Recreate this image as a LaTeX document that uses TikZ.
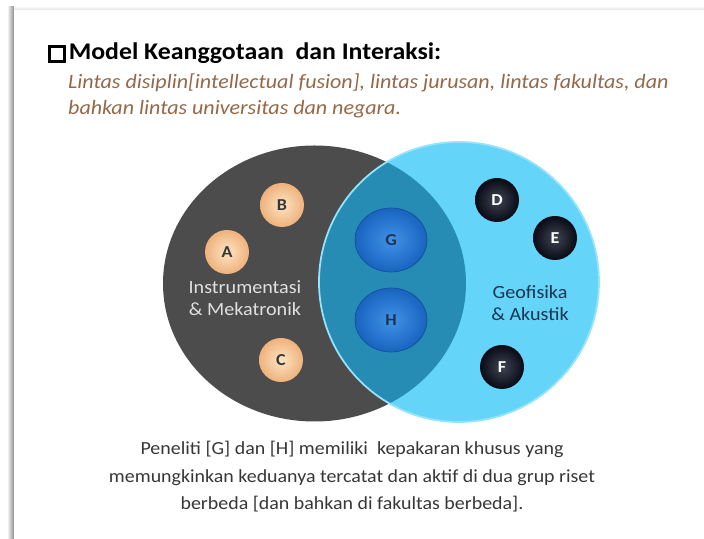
\documentclass[tikz,border=0pt]{standalone}
\usepackage{fontspec}
\setmainfont{Carlito}[FakeStretch=1.08]
\usetikzlibrary{shapes.geometric}

\definecolor{darkset}{RGB}{76,76,76}
\definecolor{blueset}{RGB}{100,212,248}
\definecolor{bluerim}{RGB}{150,228,252}
\definecolor{bothset}{RGB}{38,140,180}
\definecolor{subtext}{RGB}{150,104,72}
\definecolor{bodytext}{RGB}{55,55,55}
\definecolor{geotext}{RGB}{28,52,82}
\definecolor{peachin}{RGB}{254,228,196}
\definecolor{peachout}{RGB}{238,178,124}
\definecolor{gemin}{RGB}{64,146,230}
\definecolor{gemout}{RGB}{24,100,192}
\definecolor{navyin}{RGB}{64,68,84}
\definecolor{navyout}{RGB}{8,10,20}

\newcommand{\titlebox}{{\setlength\fboxrule{1.5pt}\setlength\fboxsep{0pt}%
  \fbox{\rule{0pt}{0.52em}\hspace{0.52em}}}\hspace{0.12em}}

\tikzset{
  peach/.style={shape=circle,minimum size=0.88cm,inner sep=0pt,
    inner color=peachin,outer color=peachout,text=bodytext,
    font=\fontsize{9.5}{11}\selectfont\bfseries},
  navy/.style={shape=circle,minimum size=0.88cm,inner sep=0pt,
    inner color=navyin,outer color=navyout,text=white,
    font=\fontsize{9.5}{11}\selectfont\bfseries},
  shared/.style={shape=ellipse,minimum width=1.44cm,minimum height=1.28cm,
    inner sep=0pt,inner color=gemin,outer color=gemout,draw=gemout!80!black,
    text=geotext,font=\fontsize{9.5}{11}\selectfont\bfseries},
  setlabel/.style={align=center,font=\fontsize{10.6}{12.8}\selectfont}
}

\begin{document}
\begin{tikzpicture}
  \useasboundingbox (0,0) rectangle (14.08,-10.78);
  % card and its shadow
  \shade[left color=white,right color=black!45] (0.14,-0.14) rectangle (0.28,-10.78);
  \shade[top color=white,bottom color=black!12] (0.28,-0.12) rectangle (14.08,-0.2);
  \fill[white] (0.28,-0.2) rectangle (14.08,-10.78);

  \node[anchor=base west,font=\fontsize{13.6}{16}\selectfont\bfseries] (title) at (0.84,-1.2)
    {\titlebox Model Keanggotaan\ \ dan Interaksi:};
  \node[anchor=base west,align=left,text=subtext,font=\fontsize{11.6}{15.3}\selectfont\itshape] (sub) at (1.24,-2.3)
    {Lintas disiplin[intellectual fusion], lintas jurusan, lintas fakultas, dan\\
     bahkan lintas universitas dan negara.};

  % the two groups
  \fill[darkset] (6.29,-5.67) ellipse [x radius=3.03,y radius=2.76];
  \fill[blueset] (9.18,-5.64) circle (2.8);
  \begin{scope}
    \clip (6.29,-5.67) ellipse [x radius=3.03,y radius=2.76];
    \fill[bothset] (9.18,-5.64) circle (2.8);
  \end{scope}
  \draw[bluerim,line width=1pt] (9.18,-5.64) circle (2.8);

  \node[setlabel,text=black!12] (instr) at (4.9,-5.96) {Instrumentasi\\\& Mekatronik};
  \node[setlabel,text=geotext] (geo) at (10.6,-6.06) {Geofisika\\\& Akustik};

  \node[peach] (a) at (4.54,-5.04) {A};
  \node[peach] (b) at (5.64,-4.10) {B};
  \node[peach] (c) at (5.62,-7.20) {C};
  \node[navy] (d) at (9.94,-4.00) {D};
  \node[navy] (e) at (11.10,-4.76) {E};
  \node[navy] (f) at (10.04,-7.34) {F};
  \node[shared] (g) at (7.82,-4.80) {G};
  \node[shared] (h) at (7.82,-6.40) {H};

  \node[align=center,text=bodytext,font=\fontsize{10.5}{15.6}\selectfont] (note) at (7.04,-9.54)
    {Peneliti [G] dan [H] memiliki\ \ kepakaran khusus yang\\
     memungkinkan keduanya tercatat dan aktif di dua grup riset\\
     berbeda [dan bahkan di fakultas berbeda].};
\end{tikzpicture}
\end{document}
